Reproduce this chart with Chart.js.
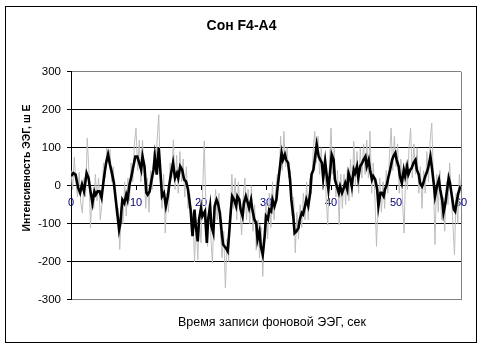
<!DOCTYPE html>
<html><head><meta charset="utf-8">
<script src="https://cdn.jsdelivr.net/npm/chart.js@4.4.1/dist/chart.umd.min.js"></script>
<style>
html,body{margin:0;padding:0;background:#fff;}
#wrap{position:relative;width:483px;height:351px;overflow:hidden;}
#frame{position:absolute;left:5px;top:6px;width:470px;height:335px;border:1px solid #000;pointer-events:none;}
canvas{position:absolute;left:0;top:0;}
</style></head><body>
<div id="wrap"><canvas id="c" width="483" height="351"></canvas><div id="frame"></div></div>
<script>
const TITLE = 'Сон F4-A4';
const X_TITLE = 'Время записи фоновой ЭЭГ, сек';
const Y_TITLE = 'Интенсивность ЭЭГ, ш Е';
const X_TICKS = [0, 10, 20, 30, 40, 50, 60];
const Y_TICKS = [-300, -200, -100, 0, 100, 200, 300];

// smoothed (black) curve: time, value
const blackT = [0.0,0.35,0.7,1.1,1.4,1.7,2.0,2.4,2.7,3.0,3.3,3.6,3.8,4.1,4.4,4.7,5.1,5.4,5.7,6.0,6.3,6.6,7.0,7.4,7.6,7.9,8.2,8.5,8.7,9.0,9.3,9.6,9.9,10.2,10.5,10.8,11.0,11.3,11.6,11.8,12.1,12.4,12.7,12.9,13.2,13.5,13.7,14.0,14.3,14.6,14.9,15.1,15.4,15.7,16.0,16.3,16.5,16.8,17.1,17.4,17.7,18.0,18.4,
18.7,19.0,19.2,19.5,19.7,20.0,20.2,20.6,20.9,21.1,21.4,21.6,21.9,22.1,22.4,22.6,22.9,23.2,23.4,23.8,24.1,24.3,24.6,24.8,25.1,25.4,25.6,25.9,26.1,26.4,26.6,26.9,27.2,27.4,27.7,27.9,28.2,28.5,28.7,29.0,29.2,29.5,29.8,30.0,30.3,30.5,30.8,31.0,31.3,31.6,31.8,32.1,32.4,32.6,32.9,33.1,33.4,33.7,33.9,34.2,34.4,34.7,35.0,35.2,35.5,35.7,36.0,36.2,36.5,36.8,37.0,37.3,37.5,37.8,38.1,
38.3,38.6,38.8,39.1,39.3,39.6,39.9,40.1,40.4,40.6,40.9,41.2,41.4,41.7,41.9,42.2,42.5,42.7,43.0,43.2,43.5,43.7,44.0,44.2,44.5,44.8,45.0,45.3,45.5,45.8,46.0,46.3,46.5,46.8,47.1,47.3,47.6,47.8,48.1,48.3,48.6,48.8,49.1,49.4,49.6,49.9,50.1,50.4,50.6,50.9,51.2,51.4,51.7,51.9,52.2,52.4,52.7,53.0,53.2,53.5,53.7,54.0,54.2,54.5,54.8,55.0,55.3,55.5,55.8,56.0,56.3,56.6,56.8,57.1,57.3,57.6,57.8,58.1,58.3,58.6,58.9,59.1,59.4,59.6,59.9];
const blackV = [25,33,29,-6,-19,3,-15,33,20,-15,-46,-15,-24,-15,-15,-32,25,60,82,55,33,7,-54,-116,-98,-37,-46,-24,-37,3,25,51,77,77,60,42,77,51,-19,-24,-15,16,42,77,29,99,51,-28,-19,-54,-28,0,33,60,20,33,20,51,42,16,11,-10,-63,
-133,-63,-107,-147,-89,-59,-81,-68,-151,-89,-54,-107,-125,-54,-37,-46,-72,-125,-155,-164,-173,-133,-63,-28,-37,-54,-28,-37,-63,-81,-46,-28,-46,-59,-37,-63,-89,-98,-142,-120,-160,-182,-133,-81,-89,-63,-68,-37,-54,-37,-2,42,86,68,82,68,60,16,-37,-81,-125,-120,-111,-89,-72,-76,-54,-37,-54,-19,29,42,68,108,77,
70,60,20,64,33,-10,42,82,68,16,-2,-19,-2,-19,-10,7,-10,33,16,-2,42,33,51,20,51,60,68,77,51,68,42,16,25,16,-10,-54,-19,-19,-28,-10,3,20,42,68,77,86,68,51,25,7,42,25,51,29,42,46,60,68,42,29,7,-2,7,25,38,51,77,51,7,-28,-2,16,-10,-37,-72,-46,-19,20,7,-28,-63,-68,-37,-19,-2];

// raw (grey) signal sampled every GREY_STEP seconds
const GREY_STEP = 0.25;
const greyV = [
40,-10,75,10,-30,35,-45,-72,
20,-30,125,40,-111,-20,-60,30,
-40,20,-90,-50,60,20,99,60,
95,10,50,-30,-80,-60,-168,-60,
-100,10,-80,20,-40,60,10,110,
152,40,120,10,120,30,-60,20,
-70,40,-10,90,30,120,187,20,
-60,30,-125,-20,-70,60,20,121,
-10,80,-20,90,10,70,-30,50,
-60,-20,-120,-70,-200,-90,-195,-80,
-150,-20,118,-60,-160,-50,-130,-204,
-80,-10,-90,-20,-130,-190,-120,-270,
-140,-200,-80,30,-60,20,-90,10,
-60,-130,-30,20,-90,-10,-100,0,
-120,-50,-170,-90,-190,-110,-239,-120,
-50,-140,-20,-110,10,-90,-10,30,
10,130,40,143,50,100,20,40,
-80,-30,-177,-70,-140,-50,-110,-20,
-90,10,-90,20,-20,90,143,60,
130,30,100,-10,80,-30,-103,60,
152,30,100,-30,40,-103,30,-60,
30,-50,40,-40,70,-30,117,0,
90,-20,100,20,110,30,120,20,
143,-20,60,-30,-160,-40,20,-70,
10,-60,40,-20,80,152,40,130,
50,110,-20,70,-40,-125,60,-10,
100,152,20,110,30,100,-20,50,
-60,40,-20,90,10,120,165,20,
-155,30,-70,40,-90,-30,-120,10,
-50,60,-20,-100,-182,-20,-100,30,
-20];

const FONT = "'Liberation Sans', Arial, sans-serif";

const axisTitles = {
  id: 'axisTitles',
  afterDraw(chart) {
    const ctx = chart.ctx;
    ctx.save();
    ctx.fillStyle = '#000';
    ctx.textAlign = 'center';
    ctx.textBaseline = 'middle';
    ctx.font = "12.5px " + FONT;
    ctx.fillText(X_TITLE, 272, 323);
    ctx.translate(27, 168);
    ctx.rotate(-Math.PI / 2);
    ctx.font = "bold 10.5px " + FONT;
    ctx.fillText(Y_TITLE, 0, 0);
    ctx.restore();
  }
};

new Chart(document.getElementById('c'), {
  type: 'line',
  data: {
    datasets: [
      {
        label: 'smoothed',
        data: blackT.map((t, i) => ({x: t, y: blackV[i]})),
        borderColor: '#000',
        borderWidth: 2.6,
        pointRadius: 0,
        tension: 0,
        order: 0
      },
      {
        label: 'raw',
        data: greyV.map((v, i) => ({x: i * GREY_STEP, y: v})),
        borderColor: '#bdbdbd',
        borderWidth: 1,
        pointRadius: 0,
        tension: 0,
        order: 1
      }
    ]
  },
  options: {
    responsive: false,
    animation: false,
    devicePixelRatio: 1,
    layout: { padding: { left: 0, right: 0, top: 0, bottom: 0 } },
    plugins: {
      legend: { display: false },
      tooltip: { enabled: false },
      title: {
        display: true,
        text: TITLE,
        color: '#000',
        font: { family: FONT, size: 14, weight: 'bold' },
        padding: { top: 18, bottom: 37 }
      }
    },
    scales: {
      x: {
        type: 'linear',
        position: { y: 0 },
        min: 0, max: 60,
        afterBuildTicks: s => { s.ticks = X_TICKS.map(v => ({value: v})); },
        ticks: { color: '#000080', font: { family: FONT, size: 11 }, padding: 7, maxRotation: 0, autoSkip: false },
        grid: { drawOnChartArea: false, drawTicks: true, tickLength: 4, tickColor: '#000' },
        border: { display: true, color: '#000', width: 1 }
      },
      x2: {
        type: 'linear',
        position: 'bottom',
        min: 0, max: 60,
        afterBuildTicks: s => { s.ticks = X_TICKS.map(v => ({value: v})); },
        afterFit: s => { s.height = 51.5; },
        ticks: { display: false },
        grid: {
          drawTicks: false,
          color: c => (c.tick && c.tick.value === 60) ? '#808080' : 'rgba(0,0,0,0)'
        },
        border: { display: false }
      },
      y: {
        type: 'linear',
        min: -300, max: 300,
        afterBuildTicks: s => { s.ticks = Y_TICKS.map(v => ({value: v})); },
        afterFit: s => { s.width = 71; },
        ticks: { color: '#000', font: { family: FONT, size: 11.5 }, padding: 6 },
        grid: {
          color: c => (c.tick && Math.abs(c.tick.value) === 300) ? '#808080' : '#000',
          tickColor: '#000',
          tickLength: 4,
          drawTicks: true
        },
        border: { display: true, color: '#000', width: 1 }
      },
      yRight: {
        type: 'linear',
        position: 'right',
        min: -300, max: 300,
        afterFit: s => { s.width = 22; },
        ticks: { display: false },
        grid: { display: false },
        border: { display: false }
      }
    }
  },
  plugins: [axisTitles]
});
</script>
</body></html>
